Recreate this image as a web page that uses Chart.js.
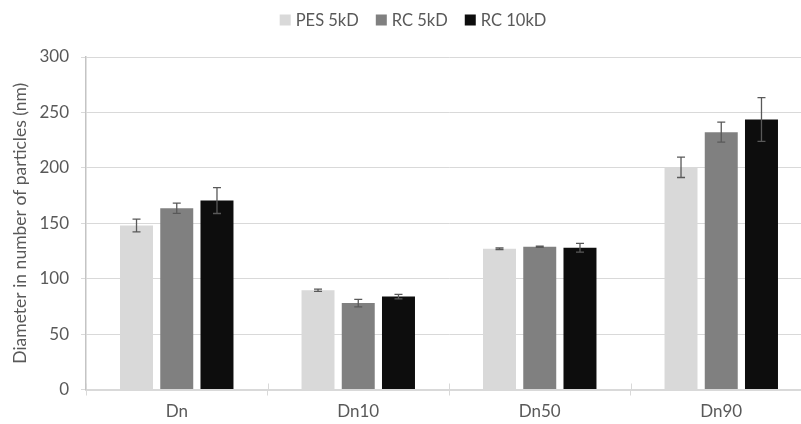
<!DOCTYPE html>
<html>
<head>
<meta charset="utf-8">
<script src="https://cdn.jsdelivr.net/npm/chart.js@4.4.1/dist/chart.umd.min.js"></script>
<style>
  html, body { margin: 0; padding: 0; background: #ffffff; overflow: hidden; }
  #wrap { width: 826px; height: 424px; }
</style>
</head>
<body>
<div id="wrap"><canvas id="chart" width="826" height="424"></canvas></div>
<script>
// Particle size statistics per membrane type
const categories = ['Dn', 'Dn10', 'Dn50', 'Dn90'];
const seriesNames = ['PES 5kD', 'RC 5kD', 'RC 10kD'];

const pes5Values  = [148.0, 89.5, 127.0, 200.5];
const pes5Errors  = [5.7, 1.0, 0.7, 9.2];
const rc5Values   = [163.5, 78.0, 128.8, 232.2];
const rc5Errors   = [4.6, 3.4, 0.5, 9.0];
const rc10Values  = [170.5, 83.8, 127.9, 243.6];
const rc10Errors  = [11.7, 2.0, 4.0, 19.8];

const yTicks = [0, 50, 100, 150, 200, 250, 300];
const yTitle = 'Diameter in number of particles (nm)';

const FONT = 'Lato, "Open Sans", sans-serif';
const TEXT = '#595959';
const fills = ['#d9d9d9', '#808080', '#0d0d0d'];

// Error bars drawn from each bar's value ± its error through the y scale
const errorBars = {
  id: 'errorBars',
  afterDatasetsDraw(chart) {
    const ctx = chart.ctx;
    const y = chart.scales.y;
    ctx.save();
    ctx.strokeStyle = '#595959';
    ctx.lineWidth = 1.3;
    chart.data.datasets.forEach((ds, i) => {
      const meta = chart.getDatasetMeta(i);
      meta.data.forEach((bar, j) => {
        const v = ds.data[j], e = ds.errors[j];
        const top = y.getPixelForValue(v + e);
        const bot = y.getPixelForValue(v - e);
        const cap = 4;
        ctx.beginPath();
        ctx.moveTo(bar.x, top); ctx.lineTo(bar.x, bot);
        ctx.moveTo(bar.x - cap, top); ctx.lineTo(bar.x + cap, top);
        ctx.moveTo(bar.x - cap, bot); ctx.lineTo(bar.x + cap, bot);
        ctx.stroke();
      });
    });
    ctx.restore();
  }
};

// Category separator ticks crossing the x axis line, plus the rotated y title
const axisExtras = {
  id: 'axisExtras',
  afterDraw(chart) {
    const ctx = chart.ctx;
    const area = chart.chartArea;
    const x = chart.scales.x;
    ctx.save();
    ctx.strokeStyle = '#d9d9d9';
    ctx.lineWidth = 1;
    const step = x.width / categories.length;
    for (let i = 0; i <= categories.length; i++) {
      const px = Math.round(x.left + step * i) + 0.5;
      ctx.beginPath();
      ctx.moveTo(px, area.bottom - 6);
      ctx.lineTo(px, area.bottom);
      ctx.stroke();
    }
    ctx.translate(20, (area.top + area.bottom) / 2);
    ctx.rotate(-Math.PI / 2);
    ctx.font = '17.5px ' + FONT;
    ctx.fillStyle = TEXT;
    ctx.textAlign = 'center';
    ctx.textBaseline = 'middle';
    ctx.fillText(yTitle, 0, 0);
    ctx.restore();
  }
};

// Legend row centred above the plot
const topLegend = {
  id: 'topLegend',
  afterDraw(chart) {
    const ctx = chart.ctx;
    ctx.save();
    ctx.font = '16.5px ' + FONT;
    ctx.textBaseline = 'middle';
    const box = 11, gapText = 5, gapItem = 17, cy = 20;
    const widths = chart.data.datasets.map(d => box + gapText + ctx.measureText(d.label).width);
    const total = widths.reduce((a, b) => a + b, 0) + gapItem * (widths.length - 1);
    let x = 413 - total / 2;
    chart.data.datasets.forEach((d, i) => {
      ctx.fillStyle = d.backgroundColor;
      ctx.fillRect(x, cy - box / 2, box, box);
      ctx.fillStyle = TEXT;
      ctx.textAlign = 'left';
      ctx.fillText(d.label, x + box + gapText, cy + 1);
      x += widths[i] + gapItem;
    });
    ctx.restore();
  }
};

new Chart(document.getElementById('chart'), {
  type: 'bar',
  data: {
    labels: categories,
    datasets: [
      { label: seriesNames[0], data: pes5Values, errors: pes5Errors, backgroundColor: fills[0] },
      { label: seriesNames[1], data: rc5Values,  errors: rc5Errors,  backgroundColor: fills[1] },
      { label: seriesNames[2], data: rc10Values, errors: rc10Errors, backgroundColor: fills[2] }
    ]
  },
  options: {
    responsive: false,
    animation: false,
    devicePixelRatio: 1,
    layout: { padding: { top: 57, right: 14, left: 0, bottom: 0 } },
    datasets: { bar: { categoryPercentage: 0.665, barPercentage: 0.82 } },
    plugins: {
      legend: { display: false },
      tooltip: { enabled: false }
    },
    scales: {
      x: {
        offset: true,
        grid: { display: true, drawOnChartArea: false, offset: true, drawTicks: true, tickLength: 6, color: '#d9d9d9', lineWidth: 1 },
        border: { display: true, color: '#d9d9d9', width: 2 },
        ticks: { color: TEXT, font: { family: FONT, size: 17 }, padding: 6 },
        afterFit(scale) { scale.height = 34.5; }
      },
      y: {
        min: 0,
        max: 300,
        afterBuildTicks(scale) { scale.ticks = yTicks.map(v => ({ value: v })); },
        grid: { color: '#d9d9d9', lineWidth: 1, drawTicks: true, tickLength: 5 },
        border: { display: true, color: '#c4c4c4', width: 1.5 },
        ticks: { color: TEXT, font: { family: FONT, size: 17 }, padding: 12 },
        title: { display: false },
        afterFit(scale) { scale.width = 86; }
      }
    }
  },
  plugins: [errorBars, axisExtras, topLegend]
});
</script>
</body>
</html>
